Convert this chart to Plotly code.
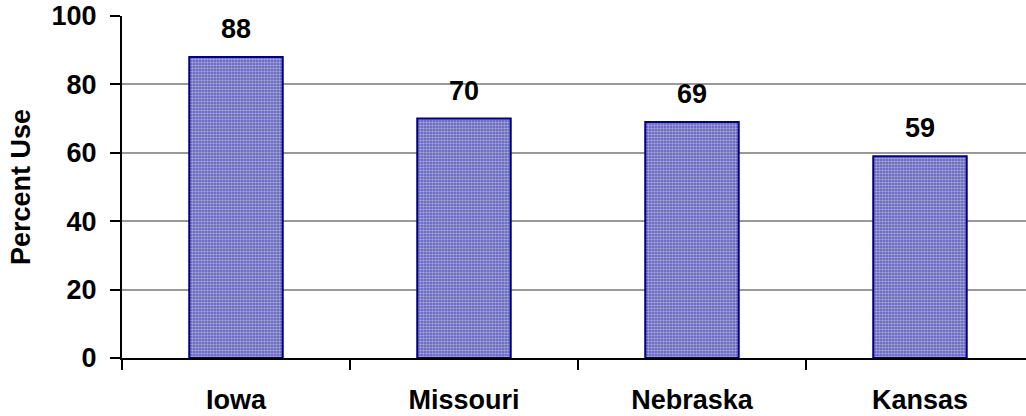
import plotly.graph_objects as go

# Percent use by state
states = ["Iowa", "Missouri", "Nebraska", "Kansas"]
percent_use = [88, 70, 69, 59]
y_ticks = [0, 20, 40, 60, 80, 100]

FONT = "Liberation Sans, Arial, sans-serif"
FS = 27

fig = go.Figure()
fig.add_trace(go.Bar(
    x=states,
    y=percent_use,
    width=0.41,
    marker=dict(
        color="#5a5ab8",
        line=dict(color="#000080", width=2),
        pattern=dict(shape=".", fgcolor="#e8e8f8", bgcolor="#5a5ab8",
                     size=3, solidity=0.55),
    ),
    hoverinfo="skip",
))

# value labels above bars
for s, v in zip(states, percent_use):
    fig.add_annotation(
        x=s, y=v, text=f"<b>{v}</b>", showarrow=False,
        yshift=28, yanchor="middle",
        font=dict(family=FONT, size=FS, color="black"),
    )

fig.update_layout(
    width=1026, height=416,
    margin=dict(l=122, r=0, t=16, b=58, autoexpand=False),
    paper_bgcolor="white", plot_bgcolor="white",
    showlegend=False,
    font=dict(family=FONT, size=FS, color="black"),
    xaxis=dict(
        type="category",
        range=[-0.5, 3.465],
        tickson="boundaries",
        ticks="outside", ticklen=10, tickwidth=2, tickcolor="black",
        showline=True, linecolor="black", linewidth=2,
        showgrid=False,
        tickfont=dict(family=FONT, size=FS, weight="bold"),
        ticklabelstandoff=17,
        automargin=False,
    ),
    yaxis=dict(
        range=[0, 100],
        tickvals=y_ticks,
        ticks="outside", ticklen=10, tickwidth=2, tickcolor="black",
        showline=True, linecolor="black", linewidth=2,
        showgrid=True, gridcolor="#999999", gridwidth=2,
        zeroline=False,
        tickfont=dict(family=FONT, size=FS, weight="bold"),
        ticklabelstandoff=8,
        title=dict(text="<b>Percent Use</b>", standoff=13,
                   font=dict(family=FONT, size=FS)),
        automargin=False,
    ),
)

fig.write_html("out.html")
